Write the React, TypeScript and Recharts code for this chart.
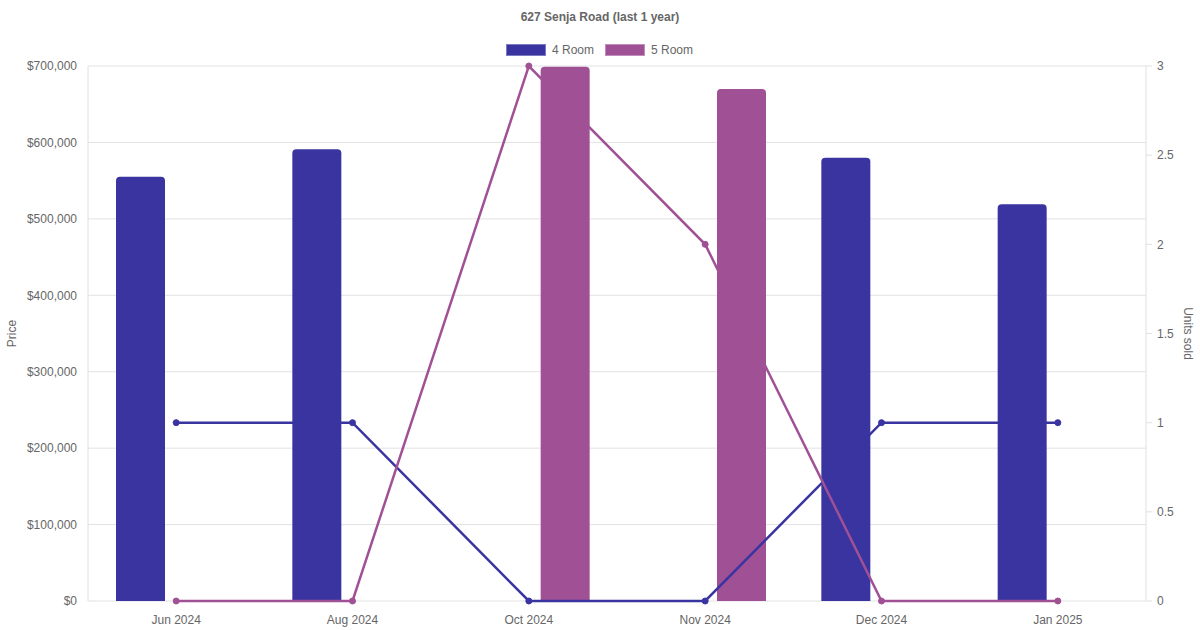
import React from 'react';
import {
  ComposedChart,
  Bar,
  Line,
  XAxis,
  YAxis,
  CartesianGrid,
} from 'recharts';

const months = ['Jun 2024', 'Aug 2024', 'Oct 2024', 'Nov 2024', 'Dec 2024', 'Jan 2025'];
const price4Room: (number | null)[] = [555000, 591000, null, null, 580000, 519000];
const price5Room: (number | null)[] = [null, null, 699000, 670000, null, null];
const units4Room = [1, 1, 0, 0, 1, 1];
const units5Room = [0, 0, 3, 2, 0, 0];
const priceTicks = [0, 100000, 200000, 300000, 400000, 500000, 600000, 700000];
const unitTicks = [0, 0.5, 1, 1.5, 2, 2.5, 3];

const BLUE = '#3934a0';
const PURPLE = '#a05195';
const TEXT = '#666';
const FONT = '"Liberation Sans", Arial, Helvetica, sans-serif';

const data = months.map((m, i) => ({
  month: m,
  p4: price4Room[i],
  p5: price5Room[i],
  u4: units4Room[i],
  u5: units5Room[i],
}));

const tickStyle = { fill: TEXT, fontSize: 12, fontFamily: FONT };

const PriceLabel = (props: any) => {
  const { viewBox } = props;
  const cy = viewBox.y + viewBox.height / 2;
  return (
    <text
      x={16}
      y={cy}
      transform={`rotate(-90, 16, ${cy})`}
      textAnchor="middle"
      fill={TEXT}
      fontSize={12}
      fontFamily={FONT}
    >
      Price
    </text>
  );
};

const UnitsLabel = (props: any) => {
  const { viewBox } = props;
  const cy = viewBox.y + viewBox.height / 2;
  return (
    <text
      x={1184}
      y={cy}
      transform={`rotate(90, 1184, ${cy})`}
      textAnchor="middle"
      fill={TEXT}
      fontSize={12}
      fontFamily={FONT}
    >
      Units sold
    </text>
  );
};

const LegendItem: React.FC<{ color: string; label: string; left: number }> = ({ color, label, left }) => (
  <div style={{ position: 'absolute', left, top: 43, display: 'flex', alignItems: 'center' }}>
    <div style={{ width: 40, height: 12, background: color, boxSizing: 'border-box', border: '1px solid rgba(255,255,255,0.35)' }} />
    <span style={{ marginLeft: 6, fontSize: 12, color: TEXT, lineHeight: '14px' }}>{label}</span>
  </div>
);

const App: React.FC = () => {
  return (
    <div style={{ position: 'absolute', left: 0, top: 0, width: 1200, height: 630, fontFamily: FONT, background: '#fff' }}>
      <div
        style={{
          position: 'absolute',
          top: 10,
          left: 0,
          width: 1200,
          textAlign: 'center',
          fontSize: 12,
          fontWeight: 'bold',
          color: TEXT,
        }}
      >
        627 Senja Road (last 1 year)
      </div>
      <LegendItem color={BLUE} label="4 Room" left={506} />
      <LegendItem color={PURPLE} label="5 Room" left={605} />
      <ComposedChart
        width={1200}
        height={630}
        data={data}
        margin={{ top: 66, right: 0, left: 0, bottom: 0 }}
        barSize={49}
        barGap={23}
      >
        <CartesianGrid yAxisId="left" vertical={false} stroke="#e2e2e2" />
        <XAxis
          dataKey="month"
          height={29}
          tick={tickStyle}
          tickLine={false}
          tickSize={0}
          tickMargin={14}
          axisLine={false}
        />
        <YAxis
          yAxisId="left"
          orientation="left"
          width={88}
          domain={[0, 700000]}
          ticks={priceTicks}
          interval={0}
          tick={tickStyle}
          tickLine={false}
          tickSize={0}
          tickMargin={11}
          axisLine={{ stroke: '#e0e0e0' }}
          tickFormatter={(v: number) => `$${v.toLocaleString('en-US')}`}
          label={<PriceLabel />}
        />
        <YAxis
          yAxisId="right"
          orientation="right"
          width={54}
          domain={[0, 3]}
          ticks={unitTicks}
          interval={0}
          tick={tickStyle}
          tickLine={{ stroke: '#e0e0e0' }}
          tickSize={6}
          tickMargin={5}
          axisLine={{ stroke: '#e0e0e0' }}
          label={<UnitsLabel />}
        />
        <Line
          yAxisId="right"
          type="linear"
          dataKey="u4"
          stroke={BLUE}
          strokeWidth={2.5}
          dot={{ r: 3, fill: BLUE, stroke: BLUE, strokeWidth: 1 }}
          isAnimationActive={false}
        />
        <Line
          yAxisId="right"
          type="linear"
          dataKey="u5"
          stroke={PURPLE}
          strokeWidth={2.5}
          dot={{ r: 3, fill: PURPLE, stroke: PURPLE, strokeWidth: 1 }}
          isAnimationActive={false}
        />
        <Bar
          yAxisId="left"
          dataKey="p4"
          fill={BLUE}
          radius={[4, 4, 0, 0]}
          isAnimationActive={false}
        />
        <Bar
          yAxisId="left"
          dataKey="p5"
          fill={PURPLE}
          radius={[4, 4, 0, 0]}
          isAnimationActive={false}
        />
      </ComposedChart>
    </div>
  );
};

export default App;
